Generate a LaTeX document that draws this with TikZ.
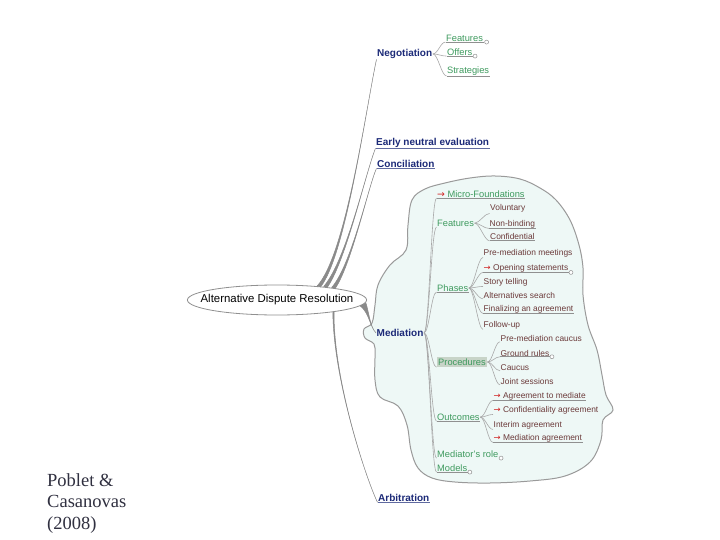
\documentclass[tikz,border=0pt]{standalone}
\usepackage{fontspec}
\setmainfont{Liberation Sans}
\newfontfamily\citefont{Liberation Serif}
\newfontfamily\arrfont{DejaVu Sans}
\usetikzlibrary{shapes.geometric,calc}
\definecolor{mmnavy}{HTML}{1C2A78}
\definecolor{mmgreen}{HTML}{3E9A5E}
\definecolor{mmleaf}{HTML}{6B3A3A}
\definecolor{mmred}{HTML}{D02020}
\definecolor{mmconn}{HTML}{A8A8A8}
\definecolor{mmul}{HTML}{909090}
\definecolor{mmbranch}{HTML}{8A8A8A}
\definecolor{mmcloud}{HTML}{EEF8F6}
\definecolor{mmcloudline}{HTML}{9A9A9A}
\definecolor{mmproc}{HTML}{C8D4C8}
\definecolor{mmcite}{HTML}{303040}
\newcommand\mainfnt{\bfseries\fontsize{10}{12}\selectfont}
\newcommand\subfnt{\fontsize{9.3}{11}\selectfont}
\newcommand\leaffnt{\fontsize{8.4}{10}\selectfont}
\newcommand\mmarrow{{\arrfont\color{mmred}→}}
\newcommand\mmlink[2]{\draw[conn] (#1) .. controls +(5,0) and +(-5,0) .. (#2);}
\newcommand\mmbranch[5]{%
  \path (#1) coordinate (bS) (#2) coordinate (bE);
  \filldraw[branch] ($(bS)!#3!90:(bE)$) .. controls ($(bS)+(#4)$) and ($(bE)+(#5)$) .. (bE)
    .. controls ($(bE)+(#5)$) and ($(bS)+(#4)$) .. ($(bS)!#3!-90:(bE)$) -- cycle;}
\tikzset{
  mainlbl/.style={font=\mainfnt, text=mmnavy, inner sep=0.5pt, anchor=base west},
  sublbl/.style={font=\subfnt, text=mmgreen, inner sep=0.5pt, anchor=base west},
  leaflbl/.style={font=\leaffnt, text=mmleaf, inner sep=0.5pt, anchor=base west},
  conn/.style={draw=mmconn, line width=0.6pt},
  uline/.style={draw=mmul, line width=0.6pt},
  mainul/.style={draw=mmnavy!70, line width=0.7pt},
  knob/.style={circle, draw=mmul, fill=white, line width=0.5pt, inner sep=0pt, minimum size=4pt},
  branch/.style={fill=mmbranch, draw=mmbranch, line width=0.5pt},
  cloud/.style={fill=mmcloud, draw=mmcloudline, line width=1pt}
}
\begin{document}
\begin{tikzpicture}[x=1pt,y=-1pt]
\fill[white] (0,0) rectangle (720,540);
\useasboundingbox (0,0) rectangle (720,540);

% cloud around Mediation
\draw[cloud] plot[smooth cycle, tension=0.6] coordinates {
 (412,200) (425,189) (445,183) (470,178) (495,176) (520,179) (540,188) (556,200)
 (570,220) (579,245) (583,268) (583,295) (588,325) (597,350) (602,375) (606,395)
 (613,410) (603,420) (601,440) (590,462) (565,476) (530,481) (490,483) (455,482)
 (432,478) (418,468) (411,450) (407,425) (398,406) (380,397) (375,380) (375,355)
 (374,344) (365,338) (364,329) (372,323) (375,305) (378,285) (390,265) (406,250)
 (408,225)};

% central topic
\node[ellipse, draw=mmul, fill=white, line width=0.8pt, minimum width=176pt, minimum height=30pt,
      inner xsep=-13pt, inner ysep=0pt, font=\fontsize{11.4}{13}\selectfont] (adr) at (277,300) {Alternative Dispute Resolution};

% main topics
\node[mainlbl] (neg)  at (376.5,56.5)  {Negotiation};
\node[mainlbl] (ene)  at (375.5,145.5) {Early neutral evaluation};
\node[mainlbl] (conc) at (376.5,167.5) {Conciliation};
\node[mainlbl] (med)  at (376,336.5)   {Mediation};
\node[mainlbl] (arb)  at (377.5,501.5) {Arbitration};

% branches
\mmbranch{adr.18}{neg.south west}{1.8pt}{27,-32}{-11,52}
\mmbranch{adr.15}{ene.south west}{1.8pt}{21,-27}{-10,25}
\mmbranch{adr.12}{conc.south west}{1.8pt}{18,-23}{-8,18}
\mmbranch{adr.-3}{med.west}{3.2pt}{6,8}{-6,-6}
\mmbranch{adr.-12}{arb.south west}{0.6pt}{0,70}{-10,-20}

\draw[mainul] (ene.south west) -- (ene.south east);
\draw[mainul] (conc.south west) -- (conc.south east);
\draw[mainul] (arb.south west) -- (arb.south east);

% Negotiation children
\node[sublbl] (nfeat)  at (445.5,41.3) {Features};
\node[sublbl] (noff)   at (446.5,55.3) {Offers};
\node[sublbl] (nstrat) at (446.5,73.3) {Strategies};
\node[knob] (knf) at ($(nfeat.south east)+(3,0)$) {};
\node[knob] (kno) at ($(noff.south east)+(2,0)$) {};
\draw[uline] (nfeat.south west) -- (knf.west);
\draw[uline] (noff.south west) -- (kno.west);
\draw[uline] (nstrat.south west) -- (nstrat.south east);
\mmlink{neg.east}{nfeat.south west}
\mmlink{neg.east}{noff.south west}
\mmlink{neg.east}{nstrat.south west}

% Mediation children
\node[sublbl] (micro)  at (436.5,197.3) {\mmarrow\ Micro-Foundations};
\node[sublbl] (feat)   at (436.5,226.3) {Features};
\node[sublbl] (phases) at (436.5,291.3) {Phases};
\node[sublbl, fill=mmproc, inner xsep=1.5pt, inner ysep=1.5pt] (proc) at (436.5,365.3) {Procedures};
\node[sublbl] (outc)   at (436.5,420.3) {Outcomes};
\node[sublbl] (mrole)  at (436.5,457.3) {Mediator's role};
\node[sublbl] (models) at (436.5,471.3) {Models};
\node[knob] (kmr) at ($(mrole.south east)+(2,0)$) {};
\node[knob] (kmo) at ($(models.south east)+(2,0)$) {};
\draw[uline] (micro.south west) -- (micro.south east);
\draw[uline] (phases.south west) -- (phases.south east);
\draw[uline] (outc.south west) -- (outc.south east);
\draw[uline] (models.south west) -- (kmo.west);
\foreach \c in {micro,feat,phases,proc,outc,mrole,models}{\mmlink{med.east}{\c.south west}}

% Features leaves
\node[leaflbl] (vol)  at (489.5,211) {Voluntary};
\node[leaflbl] (nonb) at (489,226)   {Non-binding};
\node[leaflbl] (conf) at (489.5,240) {Confidential};
\draw[uline] (nonb.south west) -- (nonb.south east);
\draw[uline] (conf.south west) -- (conf.south east);
\foreach \c in {vol,nonb,conf}{\mmlink{feat.east}{\c.south west}}

% Phases leaves
\node[leaflbl] (pmm)   at (483,255) {Pre-mediation meetings};
\node[leaflbl] (open)  at (483,270) {\mmarrow\ Opening statements};
\node[leaflbl] (story) at (483,284) {Story telling};
\node[leaflbl] (alts)  at (483,298) {Alternatives search};
\node[leaflbl] (fin)   at (483,311) {Finalizing an agreement};
\node[leaflbl] (fol)   at (483,327) {Follow-up};
\node[knob] (kop) at ($(open.south east)+(2,0)$) {};
\draw[uline] (open.south west) -- (kop.west);
\draw[uline] (fin.south west) -- (fin.south east);
\foreach \c in {pmm,open,story,alts,fin,fol}{\mmlink{phases.east}{\c.south west}}

% Procedures leaves
\node[leaflbl] (pmc)    at (500,341) {Pre-mediation caucus};
\node[leaflbl] (ground) at (500,356) {Ground rules};
\node[leaflbl] (caucus) at (500,370) {Caucus};
\node[leaflbl] (joint)  at (500,384) {Joint sessions};
\node[knob] (kgr) at ($(ground.south east)+(2,0)$) {};
\draw[uline] (ground.south west) -- (kgr.west);
\foreach \c in {pmc,ground,caucus,joint}{\mmlink{proc.east}{\c.south west}}

% Outcomes leaves
\node[leaflbl] (atm)     at (493,398) {\mmarrow\ Agreement to mediate};
\node[leaflbl] (ca)      at (493,412) {\mmarrow\ Confidentiality agreement};
\node[leaflbl] (interim) at (493,427) {Interim agreement};
\node[leaflbl] (medag)   at (493,440) {\mmarrow\ Mediation agreement};
\draw[uline] (atm.south west) -- (atm.south east);
\draw[uline] (medag.south west) -- (medag.south east);
\foreach \c in {atm,ca,interim,medag}{\mmlink{outc.east}{\c.south west}}

% citation
\node[anchor=north west, inner sep=0pt, align=left, text=mmcite,
      font=\citefont\fontsize{18.5}{21.3}\selectfont] (cite) at (47,473.4) {Poblet \&\\Casanovas\\(2008)};
\end{tikzpicture}
\end{document}
